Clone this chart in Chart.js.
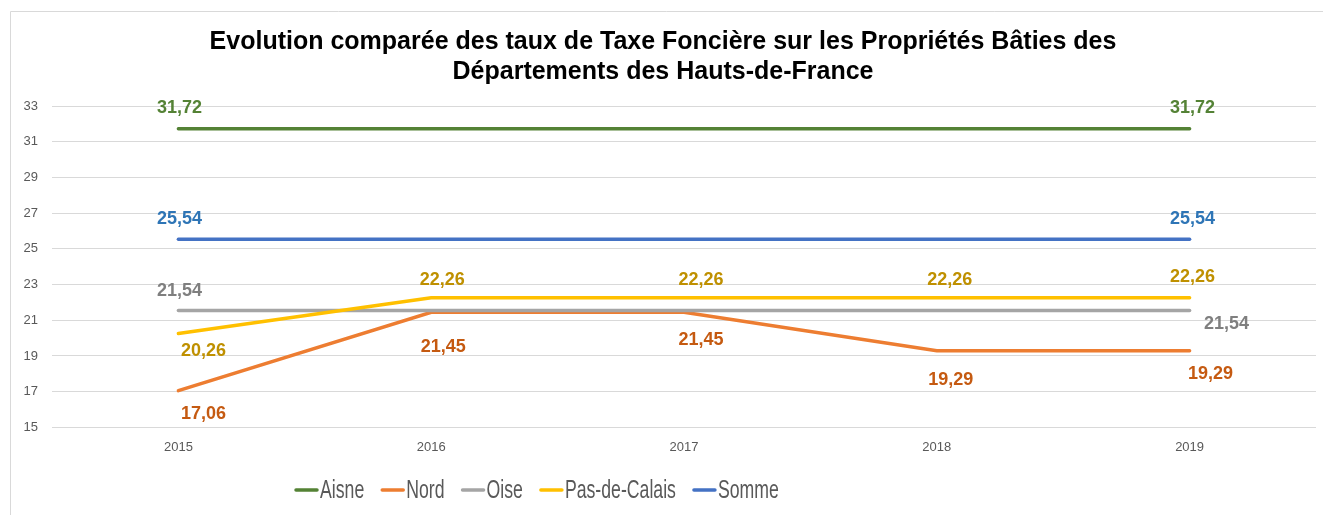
<!DOCTYPE html>
<html>
<head>
<meta charset="utf-8">
<script src="https://cdn.jsdelivr.net/npm/chart.js@4"></script>
<style>
  html, body { margin: 0; padding: 0; background: #fff; }
  #wrap { position: relative; width: 1323px; height: 515px; }
</style>
</head>
<body>
<div id="wrap"><canvas id="myChart" width="1323" height="515"></canvas></div>
<script>
// chart data
const years = ["2015", "2016", "2017", "2018", "2019"];
const aisne = [31.72, 31.72, 31.72, 31.72, 31.72];
const nord = [17.06, 21.45, 21.45, 19.29, 19.29];
const oise = [21.54, 21.54, 21.54, 21.54, 21.54];
const pasDeCalais = [20.26, 22.26, 22.26, 22.26, 22.26];
const somme = [25.54, 25.54, 25.54, 25.54, 25.54];
const yTicks = [15, 17, 19, 21, 23, 25, 27, 29, 31, 33];

// where each value label sits relative to its point (null = no label)
const labelSpots = [
  [[1, -21], null, null, null, [3, -21]],
  [[25, 23], [12, 35], [17, 28], [14, 29], [21, 23]],
  [[1, -20], null, null, null, [37, 13]],
  [[25, 18], [11, -18], [17, -18], [13, -18], [3, -21]],
  [[1, -20], null, null, null, [3, -20]]
];

function fmt(v) {
  return v.toFixed(2).replace(".", ",");
}

const valueLabels = {
  id: "valueLabels",
  afterDatasetsDraw(chart) {
    const ctx = chart.ctx;
    chart.data.datasets.forEach((ds, i) => {
      const meta = chart.getDatasetMeta(i);
      meta.data.forEach((pt, j) => {
        const s = labelSpots[i][j];
        if (!s) return;
        ctx.save();
        ctx.font = "bold 18px 'Liberation Sans', Arial, sans-serif";
        ctx.fillStyle = ds.labelColor;
        ctx.textAlign = "center";
        ctx.textBaseline = "middle";
        ctx.fillText(fmt(ds.data[j]), pt.x + s[0], pt.y + s[1]);
        ctx.restore();
      });
    });
  }
};

// legend drawn by hand so the text can be narrow like the original
const narrowLegend = {
  id: "narrowLegend",
  afterDraw(chart) {
    const ctx = chart.ctx;
    const squeeze = 0.68;
    const y = 490;
    let x = 295;
    ctx.save();
    ctx.font = "26px 'Liberation Sans', Arial, sans-serif";
    ctx.textBaseline = "middle";
    chart.data.datasets.forEach((ds) => {
      ctx.strokeStyle = ds.borderColor;
      ctx.lineWidth = 3.5;
      ctx.lineCap = "round";
      ctx.beginPath();
      ctx.moveTo(x + 1, y);
      ctx.lineTo(x + 22, y);
      ctx.stroke();
      x += 25;
      const w = ctx.measureText(ds.label).width * squeeze;
      ctx.save();
      ctx.translate(x, y);
      ctx.scale(squeeze, 1);
      ctx.fillStyle = "#595959";
      ctx.fillText(ds.label, 0, 1);
      ctx.restore();
      x += w + 17;
    });
    ctx.restore();
  }
};

const frame = {
  id: "frame",
  beforeDraw(chart) {
    const ctx = chart.ctx;
    ctx.save();
    ctx.strokeStyle = "#d9d9d9";
    ctx.lineWidth = 1;
    ctx.beginPath();
    ctx.moveTo(10.5, 515);
    ctx.lineTo(10.5, 11.5);
    ctx.lineTo(1323, 11.5);
    ctx.stroke();
    ctx.restore();
  }
};

function line(label, data, color, labelColor, order) {
  return {
    label: label,
    data: data,
    borderColor: color,
    backgroundColor: color,
    labelColor: labelColor,
    borderWidth: 3.5,
    borderCapStyle: "round",
    pointRadius: 0,
    tension: 0,
    order: order
  };
}

const ctx = document.getElementById("myChart").getContext("2d");
const chart = new Chart(ctx, {
  type: "line",
  data: {
    labels: years,
    datasets: [
      line("Aisne", aisne, "#548235", "#548235", 5),
      line("Nord", nord, "#ED7D31", "#C55A11", 4),
      line("Oise", oise, "#A5A5A5", "#7F7F7F", 3),
      line("Pas-de-Calais", pasDeCalais, "#FFC000", "#BF9000", 2),
      line("Somme", somme, "#4472C4", "#2E75B6", 1)
    ]
  },
  options: {
    responsive: false,
    animation: false,
    layout: { padding: { top: 0, right: 7, bottom: 48, left: 10 } },
    plugins: {
      title: {
        display: true,
        text: [
          "Evolution comparée des taux de Taxe Foncière sur les Propriétés Bâties des",
          "Départements des Hauts-de-France"
        ],
        color: "#000",
        font: { family: "'Liberation Sans', Arial, sans-serif", size: 25, weight: "bold", lineHeight: 1.2 },
        padding: { top: 27, bottom: 19 }
      },
      legend: { display: false },
      tooltip: { enabled: false }
    },
    scales: {
      x: {
        offset: true,
        grid: { display: false, drawTicks: false },
        border: { display: false },
        ticks: {
          color: "#595959",
          padding: 12,
          font: { family: "'Liberation Sans', Arial, sans-serif", size: 13 }
        }
      },
      y: {
        min: 15,
        max: 33,
        afterBuildTicks: (axis) => {
          axis.ticks = yTicks.map((v) => ({ value: v }));
        },
        afterFit: (axis) => {
          axis.width = 42;
        },
        grid: { color: "#d9d9d9", lineWidth: 1, drawTicks: false },
        border: { display: false },
        ticks: {
          color: "#595959",
          padding: 14,
          font: { family: "'Liberation Sans', Arial, sans-serif", size: 13 }
        }
      }
    }
  },
  plugins: [frame, valueLabels, narrowLegend]
});
</script>
</body>
</html>
